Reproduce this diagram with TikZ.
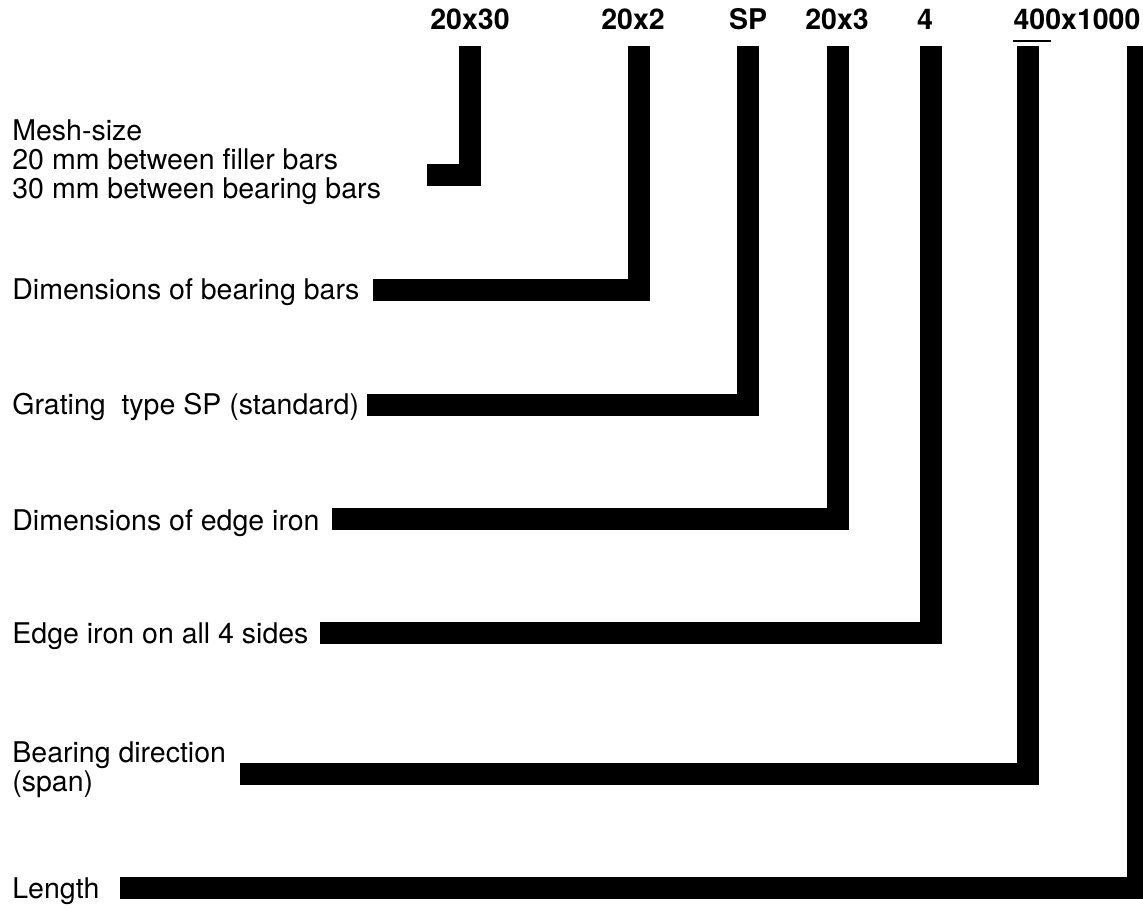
\documentclass[tikz,border=0pt]{standalone}
\usepackage{fontspec}
\setmainfont{TeX Gyre Heros}

\begin{document}
\begin{tikzpicture}[x=0.5pt,y=-0.5pt,
    code/.style={anchor=base,inner sep=0pt,font=\fontsize{14.25}{14.5}\selectfont\bfseries},
    lbl/.style={anchor=base west,align=left,inner sep=0pt,font=\fontsize{14.25}{14.5}\selectfont},
    bar/.style={line width=11pt,line join=miter,line cap=butt}]
  \useasboundingbox (0,0) rectangle (1143,908);
  % the code along the top
  \node[code] (mesh) at (470,30) {20x30};
  \node[code] (bearing) at (633,30) {20x2};
  \node[code] (type) at (748,30) {SP};
  \node[code] (edge) at (837,30) {20x3};
  \node[code] (sides) at (925,30) {4};
  \node[code] (size) at (1077,30) {400x1000};
  \draw[line width=1pt] (size.base west) ++(0,11) -- ++(38,0);
  % what each part means (base = last line)
  \node[lbl] (meshtxt) at (12,199) {Mesh-size\\20 mm between filler bars\\30 mm between bearing bars};
  \node[lbl] (bearingtxt) at (12,300) {Dimensions of bearing bars};
  \node[lbl] (typetxt) at (12,415) {Grating\ \ type SP (standard)};
  \node[lbl] (edgetxt) at (12,530) {Dimensions of edge iron};
  \node[lbl] (sidestxt) at (12,643) {Edge iron on all 4 sides};
  \node[lbl] (spantxt) at (12,791) {Bearing direction\\(span)};
  \node[lbl] (lengthtxt) at (12,898) {Length};
  % the bars from code to meaning
  \foreach \x/\y/\xend in {470/175.5/427, 638.5/290/373, 747.5/404.5/367,
      838/518.5/332, 930.5/632.5/320, 1027.5/773.5/240, 1138/888/120}
    \draw[bar] (\x,46) |- (\xend,\y);
\end{tikzpicture}
\end{document}
